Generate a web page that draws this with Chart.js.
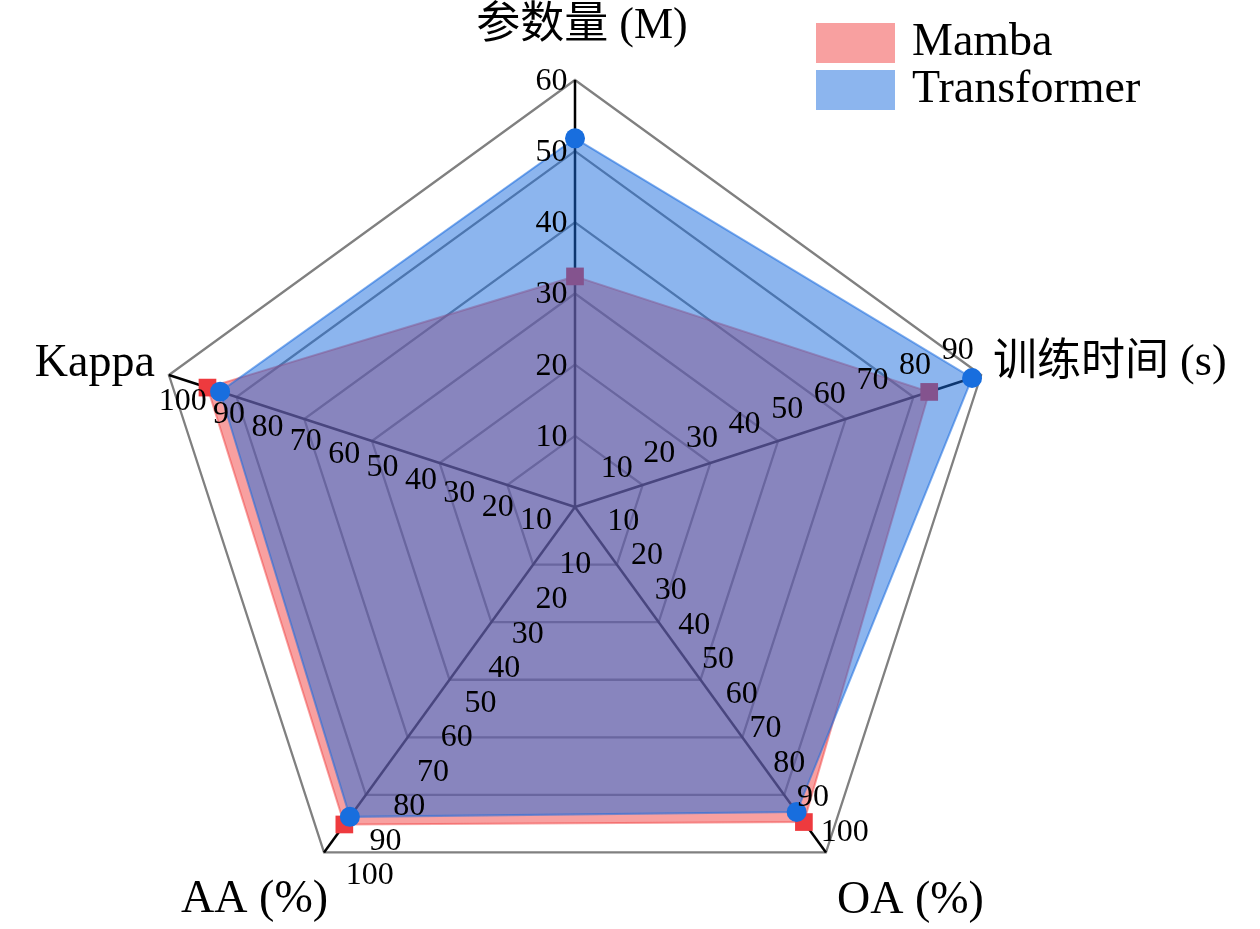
<!DOCTYPE html>
<html><head><meta charset="utf-8">
<script src="https://cdn.jsdelivr.net/npm/chart.js@4.4.1/dist/chart.umd.min.js"></script>
<style>html,body{margin:0;padding:0;overflow:hidden;background:#fff;width:1260px;height:929px}canvas{display:block}</style>
</head><body>
<canvas id="c" width="1260" height="960"></canvas>
<script>
// ---- data ----
const axisTitles = ['参数量 (M)', '训练时间 (s)', 'OA (%)', 'AA (%)', 'Kappa'];
const axisMax = [60, 90, 100, 100, 100];
const ticksParams = [10, 20, 30, 40, 50, 60];
const ticksTime = [10, 20, 30, 40, 50, 60, 70, 80, 90];
const ticksPercent = [10, 20, 30, 40, 50, 60, 70, 80, 90, 100];
const axisTicks = [ticksParams, ticksTime, ticksPercent, ticksPercent, ticksPercent];
const seriesNames = ['Mamba', 'Transformer'];
const mambaValues = [32.4, 78.5, 91.2, 91.9, 90.5];
const transformerValues = [51.8, 88.0, 88.3, 89.7, 87.4];
const gridLevels = 6;

const norm = vals => vals.map((v, i) => v / axisMax[i] * gridLevels);

const FONT_LATIN = "'Liberation Serif', 'Noto Sans CJK SC', serif";

// tick-label placement per axis: [align, dx, dy]
const tickPlace = [
  ['right', -7.5, 1.5],
  ['center', -1, -24],
  ['left', 8.5, -20],
  ['left', 8, 23.5],
  ['right', 15.5, 26.5]
];
// title placement per axis relative to vertex: [align, dx, dy, size]
const titlePlace = [
  ['center', 7, -54, 44],
  ['left', 12, -12, 44],
  ['left', 11, 48, 46],
  ['right', 4, 47, 46],
  ['right', -14, -11, 46]
];

const overlayPlugin = {
  id: 'overlay',
  afterDraw(chart) {
    const ctx = chart.ctx;
    const s = chart.scales.r;
    const cx = s.xCenter, cy = s.yCenter;
    ctx.save();
    ctx.fillStyle = '#000';
    ctx.textBaseline = 'middle';
    // tick labels per axis
    ctx.font = "32px " + FONT_LATIN;
    axisTicks.forEach((ticks, i) => {
      const [al, dx, dy] = tickPlace[i];
      ctx.textAlign = al;
      ticks.forEach(t => {
        const p = s.getPointPosition(i, s.getDistanceFromCenterForValue(t / axisMax[i] * gridLevels));
        const x = cx + 0.945 * (p.x - cx) + dx;
        ctx.fillText(String(t), x, p.y + dy);
      });
    });
    // axis titles
    axisTitles.forEach((title, i) => {
      const [al, dx, dy, size] = titlePlace[i];
      const v = s.getPointPosition(i, s.drawingArea);
      ctx.font = size + "px " + FONT_LATIN;
      ctx.textAlign = al;
      ctx.fillText(title, v.x + dx, v.y + dy);
    });
    // legend
    const lx = 816, ly = 23, bw = 79, bh = 40, gap = 47;
    chart.data.datasets.forEach((ds, k) => {
      const y = ly + k * gap;
      ctx.fillStyle = '#fff';
      ctx.fillRect(lx, y, bw, bh);
      ctx.fillStyle = ds.backgroundColor;
      ctx.fillRect(lx, y, bw, bh);
      ctx.fillStyle = '#000';
      ctx.font = "46px " + FONT_LATIN;
      ctx.textAlign = 'left';
      ctx.fillText(ds.label, 912, y + bh / 2 - 0.5);
    });
    ctx.restore();
  }
};

new Chart(document.getElementById('c'), {
  type: 'radar',
  data: {
    labels: axisTitles,
    datasets: [
      {
        label: seriesNames[0],
        data: norm(mambaValues),
        order: 1,
        fill: true,
        backgroundColor: 'rgba(241,65,65,0.5)',
        borderColor: 'rgba(241,65,65,0.5)',
        borderWidth: 2,
        pointStyle: 'rect',
        pointRadius: 12.5,
        pointBackgroundColor: 'rgb(238,58,62)',
        pointBorderWidth: 0
      },
      {
        label: seriesNames[1],
        data: norm(transformerValues),
        order: 0,
        fill: true,
        backgroundColor: 'rgba(26,108,222,0.5)',
        borderColor: 'rgba(26,108,222,0.55)',
        borderWidth: 2,
        pointStyle: 'circle',
        pointRadius: 10,
        pointBackgroundColor: 'rgb(24,110,222)',
        pointBorderWidth: 0
      }
    ]
  },
  options: {
    responsive: false,
    animation: false,
    events: [],
    layout: { padding: { left: 148, right: 258, top: 80, bottom: 26 } },
    elements: { line: { tension: 0 } },
    plugins: { legend: { display: false }, tooltip: { enabled: false }, title: { display: false } },
    scales: {
      r: {
        min: 0,
        max: gridLevels,
        ticks: { display: false, stepSize: 1 },
        grid: { color: 'rgb(128,128,128)', lineWidth: 2.3 },
        angleLines: { color: '#000', lineWidth: 2.5 },
        pointLabels: { display: false }
      }
    }
  },
  plugins: [overlayPlugin]
});
</script>
</body></html>
